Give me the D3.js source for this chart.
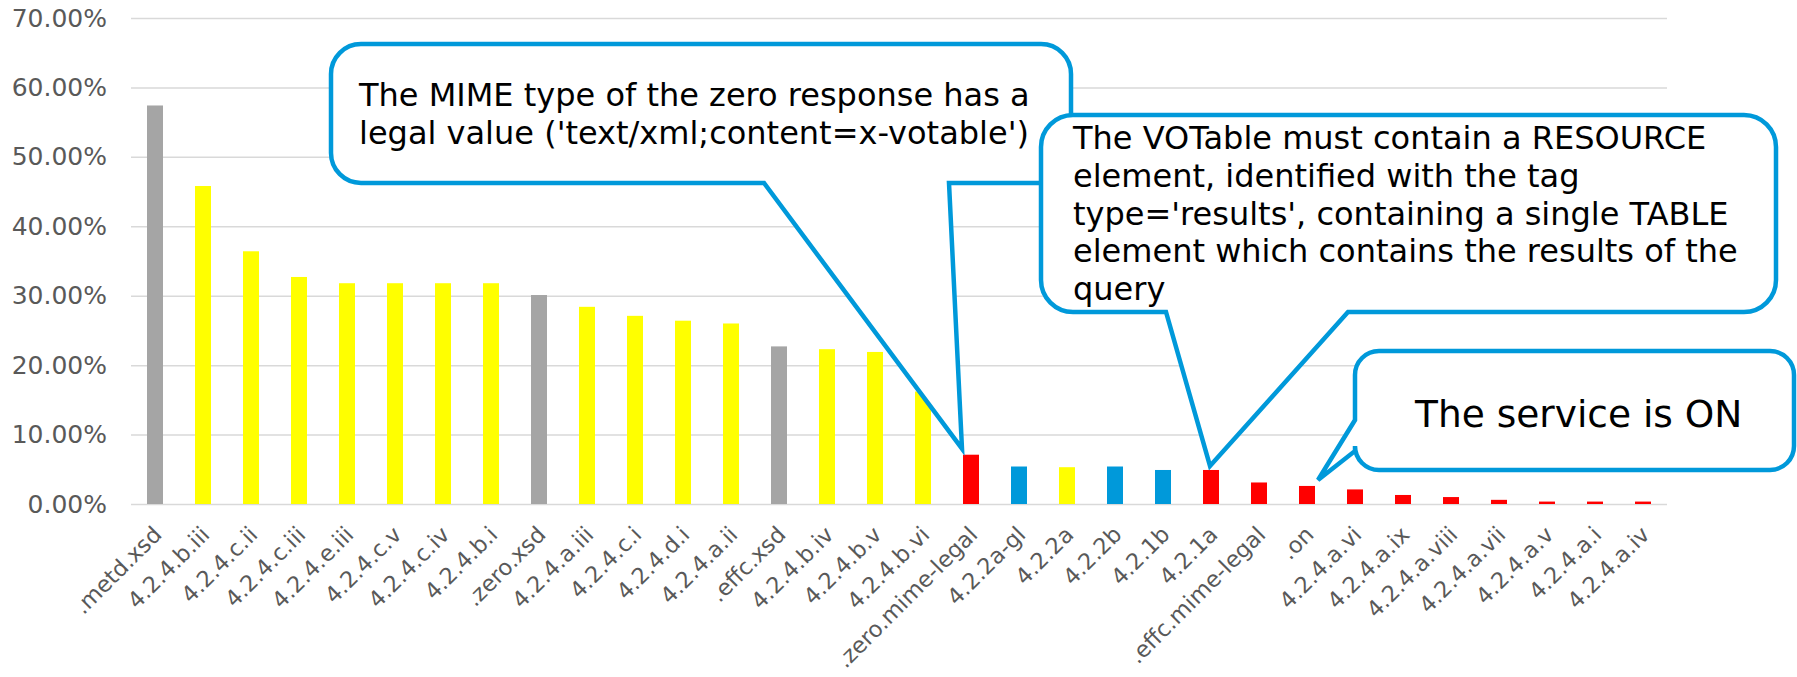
<!DOCTYPE html>
<html>
<head>
<meta charset="utf-8">
<title>Test results</title>
<script src="https://cdn.jsdelivr.net/npm/d3@7"></script>
<style>
  body { margin: 0; background: #fff; }
  svg text { font-family: "DejaVu Sans", sans-serif; }
</style>
</head>
<body>
<script>
// categories and percentage of failures
var categories = [".metd.xsd", "4.2.4.b.iii", "4.2.4.c.ii", "4.2.4.c.iii", "4.2.4.e.iii",
  "4.2.4.c.v", "4.2.4.c.iv", "4.2.4.b.i", ".zero.xsd", "4.2.4.a.iii", "4.2.4.c.i",
  "4.2.4.d.i", "4.2.4.a.ii", ".effc.xsd", "4.2.4.b.iv", "4.2.4.b.v", "4.2.4.b.vi",
  ".zero.mime-legal", "4.2.2a-gl", "4.2.2a", "4.2.2b", "4.2.1b", "4.2.1a",
  ".effc.mime-legal", ".on", "4.2.4.a.vi", "4.2.4.a.ix", "4.2.4.a.viii", "4.2.4.a.vii",
  "4.2.4.a.v", "4.2.4.a.i", "4.2.4.a.iv"];
var values = [57.4, 45.8, 36.4, 32.7, 31.8, 31.8, 31.8, 31.8, 30.1, 28.4, 27.1,
  26.4, 26.0, 22.7, 22.3, 21.9, 16.2, 7.1, 5.4, 5.3, 5.4, 4.9, 4.9,
  3.1, 2.6, 2.1, 1.3, 1.0, 0.6, 0.35, 0.35, 0.35];
// severity group of each test: g = gray, y = yellow, r = red, b = blue
var groups = ["g", "y", "y", "y", "y", "y", "y", "y", "g", "y", "y", "y", "y", "g", "y", "y", "y",
  "r", "b", "y", "b", "b", "r", "r", "r", "r", "r", "r", "r", "r", "r", "r"];
var yTicks = [0, 10, 20, 30, 40, 50, 60, 70];

var notes = [
  { cat: ".zero.mime-legal",
    lines: ["The MIME type of the zero response has a", "legal value ('text/xml;content=x-votable')"] },
  { cat: "4.2.1a",
    lines: ["The VOTable must contain a RESOURCE", "element, identified with the tag",
            "type='results', containing a single TABLE", "element which contains the results of the",
            "query"] },
  { cat: ".on", lines: ["The service is ON"] }
];

var colors = { g: "#a5a5a5", y: "#ffff00", r: "#ff0000", b: "#0099da" };
var blue = "#0099da";

var width = 1797, height = 677;
var margin = { top: 18, right: 130, bottom: 173, left: 131 };

var svg = d3.select("body").append("svg")
    .attr("width", width)
    .attr("height", height);

var x = d3.scaleBand()
    .domain(categories)
    .range([margin.left, width - margin.right])
    .paddingInner(2 / 3)
    .paddingOuter(1 / 3);

var y = d3.scaleLinear()
    .domain([0, 70])
    .range([height - margin.bottom, margin.top]);

// grid + y labels
var yAxis = svg.append("g")
    .attr("transform", "translate(" + margin.left + ",0)")
    .call(d3.axisLeft(y)
        .tickValues(yTicks)
        .tickSize(-(width - margin.left - margin.right))
        .tickPadding(24)
        .tickFormat(function(d) { return d3.format(".2f")(d) + "%"; }));
yAxis.select(".domain").remove();
yAxis.selectAll(".tick line").attr("stroke", "#d9d9d9").attr("stroke-width", 1.5);
yAxis.selectAll(".tick text")
    .attr("fill", "#595959")
    .style("font-size", "25px");

// bars
svg.append("g").selectAll("rect")
    .data(categories)
    .enter()
    .append("rect")
    .attr("x", function(d) { return x(d); })
    .attr("y", function(d, i) { return y(values[i]); })
    .attr("width", x.bandwidth())
    .attr("height", function(d, i) { return y(0) - y(values[i]); })
    .attr("fill", function(d, i) { return colors[groups[i]]; });

// x labels
var xAxis = svg.append("g")
    .attr("transform", "translate(0," + y(0) + ")")
    .call(d3.axisBottom(x).tickSize(0));
xAxis.select(".domain").remove();
xAxis.selectAll(".tick text")
    .attr("y", 0)
    .attr("dy", 0)
    .attr("transform", "translate(8,32) rotate(-45)")
    .attr("text-anchor", "end")
    .attr("fill", "#595959")
    .style("font-size", "22.5px");

// callouts
function bubble(b) {
  var r = b.r, p = b.ptr;
  var s = "M" + (b.x0 + r) + "," + b.y0 +
    "H" + (b.x1 - r) + "A" + r + "," + r + " 0 0 1 " + b.x1 + "," + (b.y0 + r) +
    "V" + (b.y1 - r) + "A" + r + "," + r + " 0 0 1 " + (b.x1 - r) + "," + b.y1;
  if (p.side === "bottom") {
    s += "H" + p.b + "L" + p.tip[0] + "," + p.tip[1] + "L" + p.a + "," + b.y1;
  }
  s += "H" + (b.x0 + r) + "A" + r + "," + r + " 0 0 1 " + b.x0 + "," + (b.y1 - r);
  if (p.side === "left") {
    s += "V" + p.b + "L" + p.tip[0] + "," + p.tip[1] + "L" + b.x0 + "," + p.a;
  }
  s += "V" + (b.y0 + r) + "A" + r + "," + r + " 0 0 1 " + (b.x0 + r) + "," + b.y0 + "Z";
  return s;
}

var cx = function(c) { return x(c) + x.bandwidth() / 2; };
var yv = function(c) { return y(values[categories.indexOf(c)]); };

var boxes = [
  { x0: 331, y0: 44, x1: 1071, y1: 183, r: 30,
    ptr: { side: "bottom", a: 764, b: 949, tip: [cx(notes[0].cat) - 9, yv(notes[0].cat) - 6] },
    tx: 359, ty: 106, lh: 38, fs: 32 },
  { x0: 1041, y0: 115, x1: 1776, y1: 312, r: 32,
    ptr: { side: "bottom", a: 1166, b: 1348, tip: [cx(notes[1].cat) - 1, yv(notes[1].cat) - 4] },
    tx: 1073, ty: 149, lh: 37.8, fs: 32 },
  { x0: 1355, y0: 351, x1: 1794, y1: 470, r: 24,
    ptr: { side: "left", a: 420, b: 451, tip: [cx(notes[2].cat) + 11, yv(notes[2].cat) - 6] },
    tx: 1415, ty: 427, lh: 0, fs: 37.5 }
];

notes.forEach(function(n, i) {
  var b = boxes[i];
  var g = svg.append("g");
  g.append("path")
      .attr("d", bubble(b))
      .attr("fill", "#fff")
      .attr("stroke", blue)
      .attr("stroke-width", 4.5)
      .attr("stroke-linejoin", "miter");
  g.selectAll("text")
      .data(n.lines)
      .enter()
      .append("text")
      .attr("x", b.tx)
      .attr("y", function(d, j) { return b.ty + j * b.lh; })
      .attr("fill", "#000")
      .style("font-size", b.fs + "px")
      .text(function(d) { return d; });
});
</script>
</body>
</html>
